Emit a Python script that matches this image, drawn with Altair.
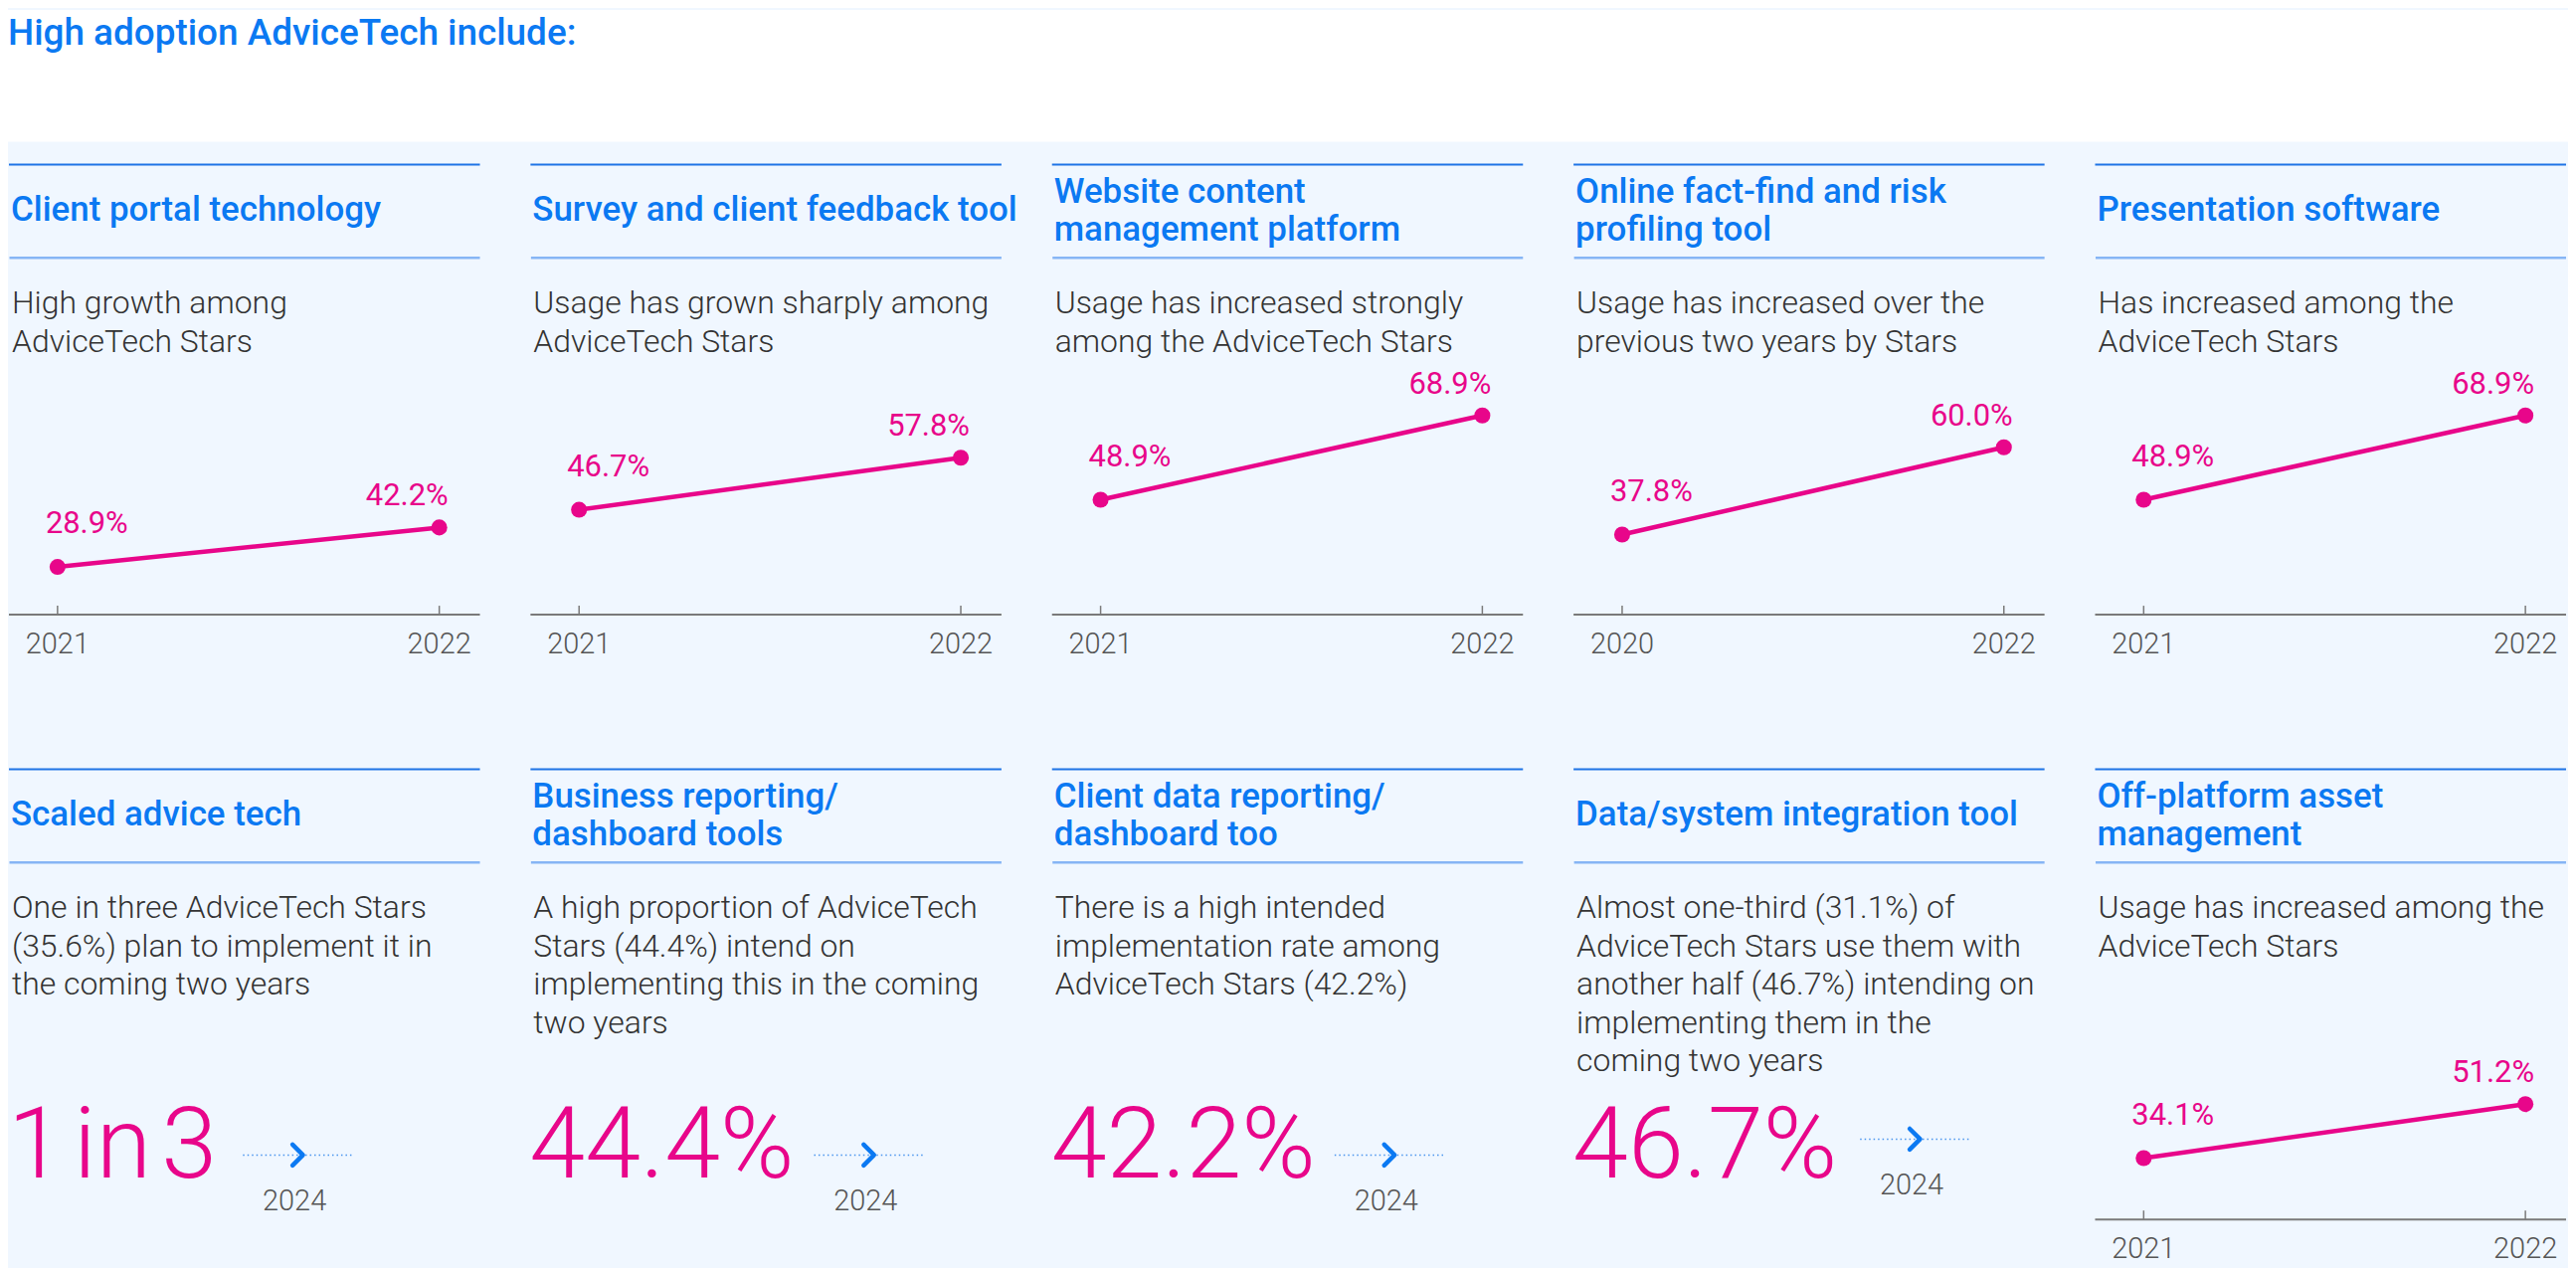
import altair as alt
import pandas as pd

# ---------------- data ----------------
header_title = "High adoption AdviceTech include:"

panel_titles = [
    "Client portal technology",
    "Survey and client feedback tool",
    "Website content\nmanagement platform",
    "Online fact-find and risk\nprofiling tool",
    "Presentation software",
    "Scaled advice tech",
    "Business reporting/\ndashboard tools",
    "Client data reporting/\ndashboard too",
    "Data/system integration tool",
    "Off-platform asset\nmanagement",
]

panel_descriptions = [
    "High growth among\nAdviceTech Stars",
    "Usage has grown sharply among\nAdviceTech Stars",
    "Usage has increased strongly\namong the AdviceTech Stars",
    "Usage has increased over the\nprevious two years by Stars",
    "Has increased among the\nAdviceTech Stars",
    "One in three AdviceTech Stars\n(35.6%) plan to implement it in\nthe coming two years",
    "A high proportion of AdviceTech\nStars (44.4%) intend on\nimplementing this in the coming\ntwo years",
    "There is a high intended\nimplementation rate among\nAdviceTech Stars (42.2%)",
    "Almost one-third (31.1%) of\nAdviceTech Stars use them with\nanother half (46.7%) intending on\nimplementing them in the\ncoming two years",
    "Usage has increased among the\nAdviceTech Stars",
]

# line-chart panels (index into the panel lists above)
line_panel_ids = [0, 1, 2, 3, 4, 9]
line_years = [
    [2021, 2022],
    [2021, 2022],
    [2021, 2022],
    [2020, 2022],
    [2021, 2022],
    [2021, 2022],
]
line_values = [
    [28.9, 42.2],
    [46.7, 57.8],
    [48.9, 68.9],
    [37.8, 60.0],
    [48.9, 68.9],
    [34.1, 51.2],
]

# big-number panels (narrow hair spaces in "1 in 3" as in the original typesetting)
big_panel_ids = [5, 6, 7, 8]
big_values = ["1\u200ain\u200a3", "44.4%", "42.2%", "46.7%"]
big_years = ["2024", "2024", "2024", "2024"]

# ---------------- layout / style ----------------
y_domains = [
    [12.8, 164.9],
    [24.3, 120.6],
    [21.6, 128.7],
    [17.4, 132.2],
    [21.6, 128.7],
    [14.7, 157.4],
]
arrow_cx = [292, 342, 341, 345]
arrow_y = [390, 390, 390, 374]

W = 476
H1 = 588
H2 = 502
AXIS_Y = 455
FONT = "Roboto"
BLUE = "#0b79f2"
PINK = "#e8068a"
LINE_DARK = "#1f74e6"
LINE_LIGHT = "#86b5f5"
AXIS_C = "#7a7a7a"
TEXT_C = "#333333"
YEAR_C = "#555555"
BG = "#F0F7FF"
CHEVRON = "M-0.4,-0.84L0.44,0L-0.4,0.84"


def one(value):
    return alt.Chart(pd.DataFrame({"t": [value]}))


def header_layers(i):
    title = panel_titles[i]
    nlines = title.count("\n") + 1
    ty = 58 if nlines == 1 else 40
    rule_top = one("").mark_rule(color=LINE_DARK, strokeWidth=2).encode(
        x=alt.value(1), x2=alt.value(W), y=alt.value(1)
    )
    rule_mid = one("").mark_rule(color=LINE_LIGHT, strokeWidth=2.5).encode(
        x=alt.value(1.5), x2=alt.value(W), y=alt.value(95)
    )
    title_t = one(title).mark_text(
        align="left", baseline="alphabetic", font=FONT, fontSize=35,
        fontWeight=500, color=BLUE, lineBreak="\n", lineHeight=38,
    ).encode(x=alt.value(3), y=alt.value(ty), text="t:N")
    desc_t = one(panel_descriptions[i]).mark_text(
        align="left", baseline="alphabetic", font=FONT, fontSize=32,
        fontWeight=300, color=TEXT_C, lineBreak="\n", lineHeight=38.7,
    ).encode(x=alt.value(4), y=alt.value(151), text="t:N")
    return [rule_top, rule_mid, title_t, desc_t]


def line_panel(k, height):
    i = line_panel_ids[k]
    yrs = line_years[k]
    df = pd.DataFrame({
        "yr": yrs,
        "year": [str(v) for v in yrs],
        "value": line_values[k],
        "pos": [0, 1],
    })
    base = alt.Chart(df)
    x = alt.X(
        "yr:Q",
        scale=alt.Scale(domain=[yrs[0], yrs[-1]], range=[50, 435], zero=False, nice=False),
        axis=None,
    )
    y = alt.Y(
        "value:Q",
        scale=alt.Scale(domain=y_domains[k], range=[AXIS_Y, 0], zero=False, nice=False),
        axis=None,
    )
    line = base.mark_line(color=PINK, strokeWidth=4.5).encode(x=x, y=y)
    pts = base.mark_circle(size=260, color=PINK, opacity=1).encode(x=x, y=y)
    lab0 = (
        base.transform_filter("datum.pos == 0")
        .transform_calculate(label="format(datum.value, '.1f') + '%'")
        .mark_text(align="left", baseline="alphabetic", dx=-12, dy=-34,
                   font=FONT, fontSize=31, color=PINK)
        .encode(x=x, y=y, text="label:N")
    )
    lab1 = (
        base.transform_filter("datum.pos == 1")
        .transform_calculate(label="format(datum.value, '.1f') + '%'")
        .mark_text(align="right", baseline="alphabetic", dx=9, dy=-22,
                   font=FONT, fontSize=31, color=PINK)
        .encode(x=x, y=y, text="label:N")
    )
    ticks = base.mark_rule(color=AXIS_C, strokeWidth=1.5).encode(
        x=x, y=alt.value(AXIS_Y - 9), y2=alt.value(AXIS_Y)
    )
    axis_line = one("").mark_rule(color=AXIS_C, strokeWidth=2).encode(
        x=alt.value(1), x2=alt.value(W), y=alt.value(AXIS_Y)
    )
    year_t = base.mark_text(
        align="center", baseline="alphabetic", font=FONT, fontSize=29,
        fontWeight=300, color=YEAR_C,
    ).encode(x=x, y=alt.value(494), text="year:N")
    return alt.layer(
        *header_layers(i), axis_line, ticks, line, pts, lab0, lab1, year_t
    ).properties(width=W, height=height)


def big_panel(k, height):
    i = big_panel_ids[k]
    cx, ay = arrow_cx[k], arrow_y[k]
    num = one(big_values[k]).mark_text(
        align="left", baseline="alphabetic", font=FONT, fontSize=101,
        fontWeight=300, color=PINK,
    ).encode(x=alt.value(0), y=alt.value(413), text="t:N")
    dots = one("").mark_rule(color="#4a95ee", strokeWidth=1.5, strokeDash=[1.5, 3]).encode(
        x=alt.value(cx - 55), x2=alt.value(cx + 55), y=alt.value(ay)
    )
    chev = one("").mark_point(
        shape=CHEVRON, size=625, filled=False, color=BLUE, strokeWidth=4.5,
        strokeCap="round", strokeJoin="round", opacity=1,
    ).encode(x=alt.value(cx), y=alt.value(ay))
    yr = one(big_years[k]).mark_text(
        align="center", baseline="alphabetic", font=FONT, fontSize=29,
        fontWeight=300, color=YEAR_C,
    ).encode(x=alt.value(cx - 3), y=alt.value(ay + 56), text="t:N")
    return alt.layer(*header_layers(i), num, dots, chev, yr).properties(
        width=W, height=height
    )


HEADER_W = 2582
HEADER_H = 133
header = one(header_title).mark_text(
    align="left", baseline="alphabetic", font=FONT, fontSize=37,
    fontWeight=500, color=BLUE,
).encode(x=alt.value(0), y=alt.value(35), text="t:N").properties(
    width=HEADER_W, height=HEADER_H,
    view=alt.ViewBackground(fill="white", stroke="transparent", strokeWidth=0),
)

row1 = alt.hconcat(*[line_panel(k, H1) for k in range(5)], spacing=50, bounds="flush")
row2 = alt.hconcat(
    *[big_panel(k, H2) for k in range(4)], line_panel(5, H2), spacing=50, bounds="flush"
)

chart = (
    alt.vconcat(header, row1, row2, spacing=22)
    .properties(padding=0, background=BG)
    .configure_view(strokeWidth=0, stroke="transparent")
)

chart.save("out.html", embed_options={"renderer": "svg", "actions": False})
